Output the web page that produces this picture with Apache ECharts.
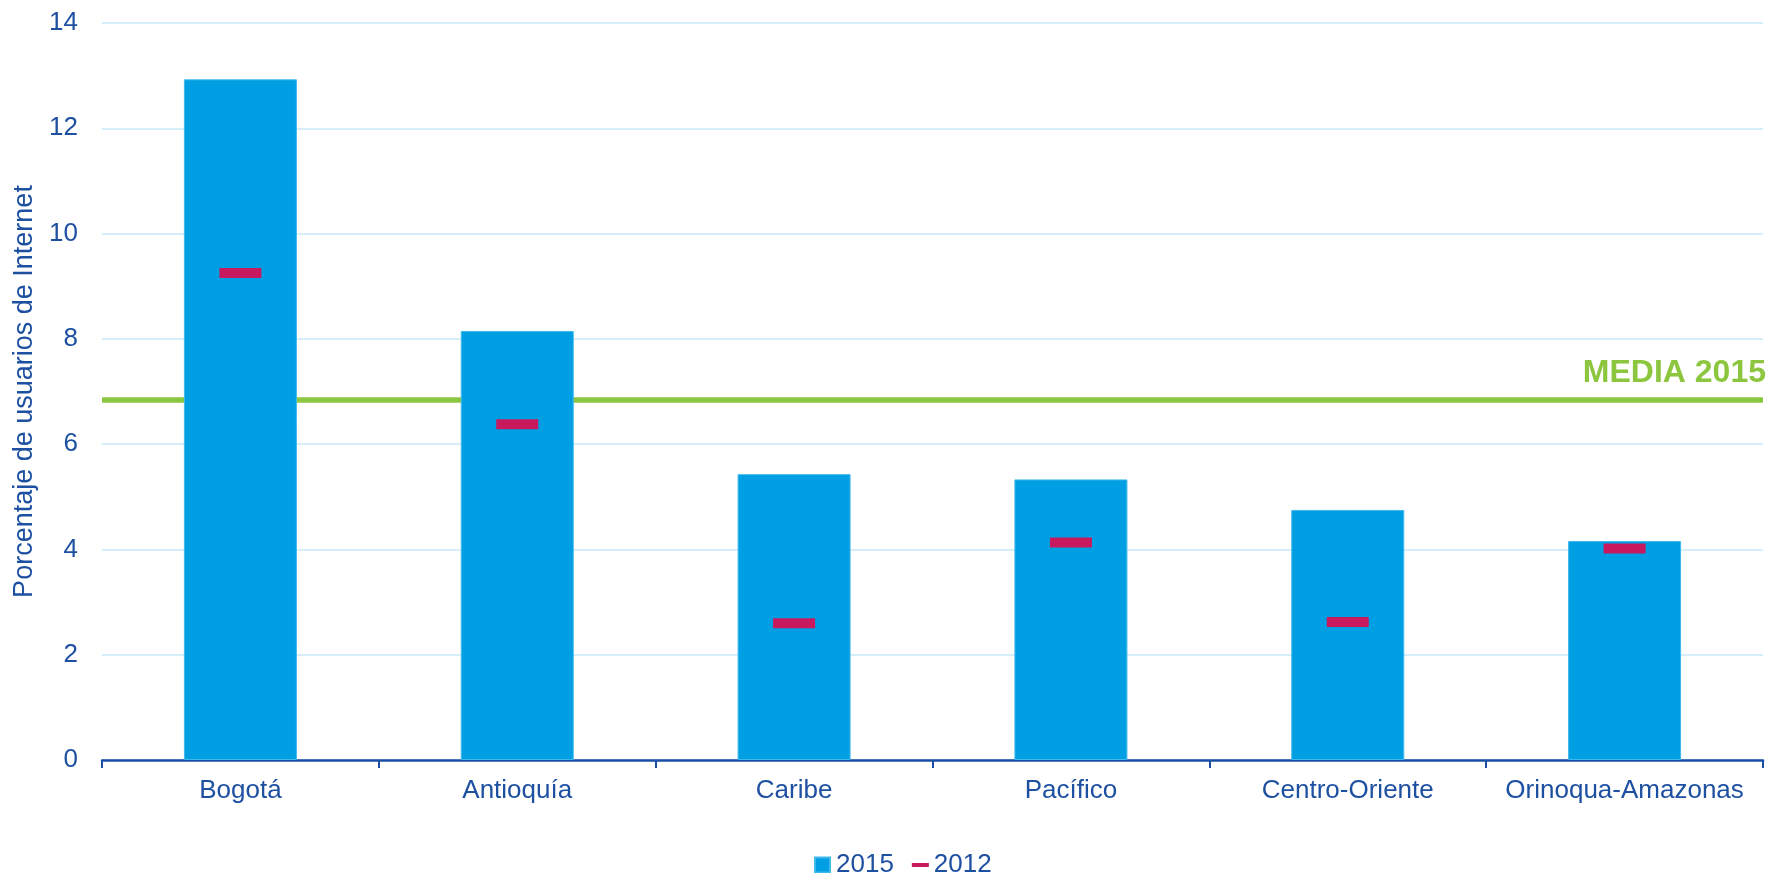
<!DOCTYPE html>
<html>
<head>
<meta charset="utf-8">
<script src="https://cdn.jsdelivr.net/npm/echarts@6/dist/echarts.min.js"></script>
<style>
html,body{margin:0;padding:0;background:#fff;}
#chart{width:1769px;height:873px;}
</style>
</head>
<body>
<div id="chart"></div>
<script>
const categories = ['Bogotá', 'Antioquía', 'Caribe', 'Pacífico', 'Centro-Oriente', 'Orinoqua-Amazonas'];
const values2015 = [12.93, 8.15, 5.43, 5.33, 4.75, 4.16];
const values2012 = [9.25, 6.38, 2.60, 4.13, 2.62, 4.02];
const media2015 = 6.84;
const mediaLabel = 'MEDIA 2015';
const yAxisName = 'Porcentaje de usuarios de Internet';

const textColor = '#1e50a2';
const font = 'Liberation Sans, Arial, sans-serif';

const chart = echarts.init(document.getElementById('chart'), null, {renderer: 'canvas'});
chart.setOption({
  animation: false,
  backgroundColor: '#ffffff',
  grid: {left: 102, right: 6, top: 23, bottom: 113, containLabel: false},
  legend: {
    left: 809,
    top: 847,
    itemGap: 18,
    itemWidth: 17,
    itemHeight: 15,
    textStyle: {color: textColor, fontSize: 26, fontFamily: font},
    data: [
      {name: '2015', icon: 'path://M0,0 H15 V15 H0 Z'},
      {name: '2012', icon: 'path://M0,0 H17 V4 H0 Z'}
    ]
  },
  xAxis: {
    type: 'category',
    data: categories,
    axisLine: {show: true, lineStyle: {color: '#1a4fa6', width: 2.5}},
    axisTick: {show: true, interval: 0, length: 8, lineStyle: {color: '#1a4fa6', width: 2}},
    axisLabel: {interval: 0, color: textColor, fontSize: 26, fontFamily: font, margin: 18}
  },
  yAxis: {
    type: 'value',
    min: 0,
    max: 14,
    interval: 2,
    name: yAxisName,
    nameLocation: 'middle',
    nameGap: 50,
    nameTextStyle: {color: textColor, fontSize: 27, fontFamily: font},
    axisLine: {show: false},
    axisTick: {show: false},
    axisLabel: {color: textColor, fontSize: 26, fontFamily: font, margin: 24},
    splitLine: {show: true, lineStyle: {color: '#d5eefa', width: 2}}
  },
  series: [
    {
      name: 'media',
      type: 'line',
      data: [],
      z: 1,
      silent: true,
      markLine: {
        z: 1,
        silent: true,
        symbol: ['none', 'none'],
        lineStyle: {color: '#8cc63f', width: 5.5, type: 'solid'},
        label: {
          show: true,
          position: 'insideEndTop',
          formatter: mediaLabel,
          color: '#8cc63f',
          fontWeight: 'bold',
          fontSize: 32,
          fontFamily: font,
          distance: [-3, -5],
          padding: [0, 0, 16, 0]
        },
        data: [{yAxis: media2015}]
      }
    },
    {
      name: '2015',
      type: 'bar',
      data: values2015,
      barWidth: 113,
      z: 10,
      itemStyle: {color: '#009fe3', borderColor: '#3fb8ec', borderWidth: 1}
    },
    {
      name: '2012',
      type: 'scatter',
      data: values2012,
      z: 11,
      symbol: 'rect',
      symbolSize: [42, 10],
      itemStyle: {color: '#c8195e', opacity: 1}
    }
  ]
});
</script>
</body>
</html>
